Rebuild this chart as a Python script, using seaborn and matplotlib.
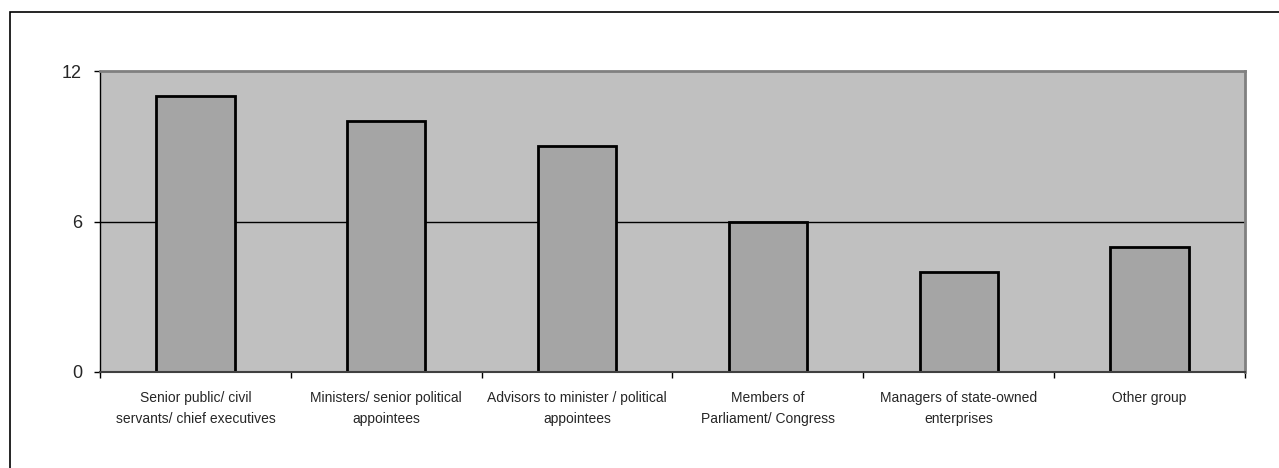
import matplotlib
matplotlib.use("Agg")
import matplotlib.pyplot as plt
import seaborn as sns
import pandas as pd
from matplotlib.patches import Rectangle

# Survey counts by respondent group
categories = [
    "Senior public/ civil\nservants/ chief executives",
    "Ministers/ senior political\nappointees",
    "Advisors to minister / political\nappointees",
    "Members of\nParliament/ Congress",
    "Managers of state-owned\nenterprises",
    "Other group",
]
counts = [11, 10, 9, 6, 4, 5]
y_ticks = [0, 6, 12]

sns.set_theme(style="white")
plt.rcParams["font.family"] = ["Liberation Sans", "DejaVu Sans"]

df = pd.DataFrame({"group": categories, "count": counts})

fig = plt.figure(figsize=(12.79, 4.68), dpi=100)
ax = fig.add_axes([100 / 1279, 1 - 372 / 468, 1145 / 1279, 301 / 468])

ax.set_facecolor("#C0C0C0")
ax.axhline(6, color="black", linewidth=1, zorder=0.5)

sns.barplot(data=df, x="group", y="count", ax=ax, color="#A5A5A5",
            saturation=1, width=0.41, edgecolor="black", linewidth=2,
            zorder=2)

ax.set_xlim(-0.5, len(categories) - 0.5)
ax.set_ylim(0, 12)
ax.set_yticks(y_ticks)
ax.set_yticklabels([str(v) for v in y_ticks], fontsize=13)
ax.set_xlabel("")
ax.set_ylabel("")

# Category labels centred under bars, tick marks on category boundaries
ax.set_xticks(range(len(categories)))
ax.set_xticklabels(categories, fontsize=10, linespacing=1.6)
ax.set_xticks([i - 0.5 for i in range(len(categories) + 1)], minor=True)
ax.tick_params(axis="x", which="major", length=0, pad=14)
ax.tick_params(axis="x", which="minor", length=4, width=1, color="black",
               direction="out", bottom=True)
ax.tick_params(axis="y", which="major", length=4, width=1, color="black",
               direction="out", left=True, pad=9)

for side in ["top", "right"]:
    ax.spines[side].set_visible(True)
    ax.spines[side].set_color("#808080")
    ax.spines[side].set_linewidth(2)
ax.spines["left"].set_color("black")
ax.spines["left"].set_linewidth(1)
ax.spines["bottom"].set_color("#404040")
ax.spines["bottom"].set_linewidth(1.5)
ax.grid(False)

# Chart-area frame
fig.patches.append(Rectangle((10 / 1279, -0.1), 1.2, 1 - 12 / 468 + 0.1,
                             transform=fig.transFigure, fill=False,
                             edgecolor="black", linewidth=1.2))

fig.savefig("out.png", dpi=100)
